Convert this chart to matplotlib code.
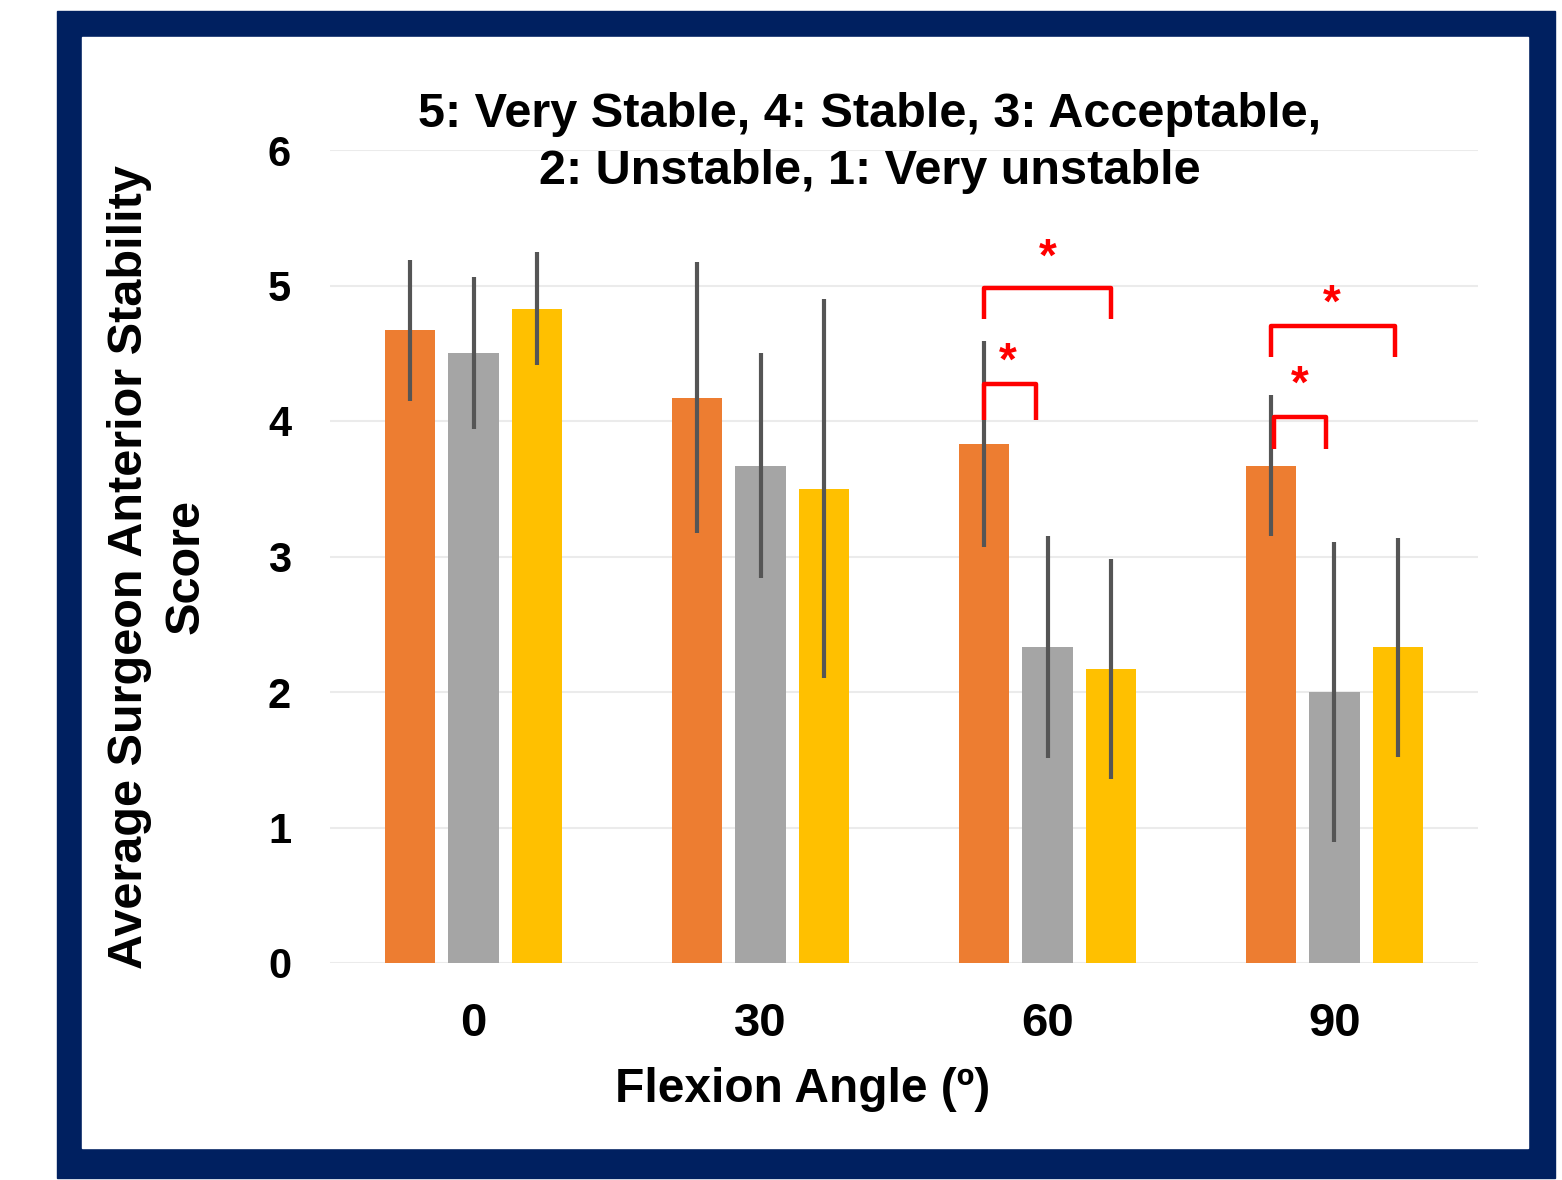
import numpy as np
import matplotlib.pyplot as plt
from matplotlib.patches import Rectangle

plt.rcParams['font.family'] = ['Liberation Sans', 'DejaVu Sans']
plt.rcParams['font.weight'] = 'bold'

angles = ['0', '30', '60', '90']
orange_vals = [4.67, 4.17, 3.83, 3.67]
orange_err = [0.52, 1.00, 0.76, 0.52]
gray_vals = [4.50, 3.67, 2.33, 2.00]
gray_err = [0.56, 0.83, 0.82, 1.11]
yellow_vals = [4.83, 3.50, 2.17, 2.33]
yellow_err = [0.42, 1.40, 0.81, 0.81]

# significance brackets: x start, x end, top, leg bottom
brackets = [
    (1.78, 2.22, 4.98, 4.75),
    (1.78, 1.96, 4.27, 4.01),
    (2.78, 3.21, 4.70, 4.47),
    (2.79, 2.97, 4.03, 3.79),
]
stars = [(2.00, 5.20), (1.86, 4.43), (2.99, 4.86), (2.88, 4.26)]

fig = plt.figure(figsize=(15.62, 11.80), dpi=100)
W, H = 1562, 1180

# navy frame
fig.patches.append(Rectangle((57 / W, 1 - 1178 / H), (1555 - 57) / W, (1178 - 11) / H,
                             transform=fig.transFigure, color='#002060', zorder=-2))
fig.patches.append(Rectangle((82 / W, 1 - 1148 / H), (1528 - 82) / W, (1148 - 37) / H,
                             transform=fig.transFigure, color='white', zorder=-1))

ax = fig.add_axes([330 / W, 1 - 963 / H, 1148 / W, 813 / H])
ax.set_facecolor('none')
ax.set_zorder(2)

x = np.arange(len(angles))
w = 0.175
off = 0.22
err_kw = dict(ecolor='#555555', elinewidth=3, capsize=0)
ax.bar(x - off, orange_vals, w, color='#ED7D31', yerr=orange_err, error_kw=err_kw, zorder=2)
ax.bar(x, gray_vals, w, color='#A5A5A5', yerr=gray_err, error_kw=err_kw, zorder=2)
ax.bar(x + off, yellow_vals, w, color='#FFC000', yerr=yellow_err, error_kw=err_kw, zorder=2)

for x0, x1, top, bot in brackets:
    ax.plot([x0, x0, x1, x1], [bot, top, top, bot], color='red', lw=3.2,
            solid_joinstyle='round', solid_capstyle='butt', zorder=3)
for sx, sy in stars:
    ax.text(sx, sy, '*', color='red', fontsize=33, ha='center', va='center', zorder=3)

ax.set_xlim(-0.5, 3.5)
ax.set_ylim(0, 6)
ax.set_yticks(range(7))
ax.set_xticks(x)
ax.set_xticklabels(angles)
ax.yaxis.grid(True, color='#EBEBEB', lw=1.5)
ax.set_axisbelow(True)
for s in ax.spines.values():
    s.set_visible(False)
ax.tick_params(length=0)
ax.tick_params(axis='y', labelsize=30, pad=28)
ax.tick_params(axis='x', labelsize=34, pad=28)

fig.text(803 / W, 1 - 1089 / H, 'Flexion Angle (º)', fontsize=34.5, fontweight='bold',
         ha='center', va='center')
fig.text(130 / W, 1 - 567 / H, 'Average Surgeon Anterior Stability', rotation=90,
         fontsize=35, ha='center', va='center')
fig.text(186 / W, 1 - 567 / H, 'Score', rotation=90, fontsize=35, ha='center', va='center')
fig.text(870 / W, 1 - 143 / H, '5: Very Stable, 4: Stable, 3: Acceptable,\n2: Unstable, 1: Very unstable',
         fontsize=35, ha='center', va='center', linespacing=1.33)

fig.savefig('out.png', dpi=100)
